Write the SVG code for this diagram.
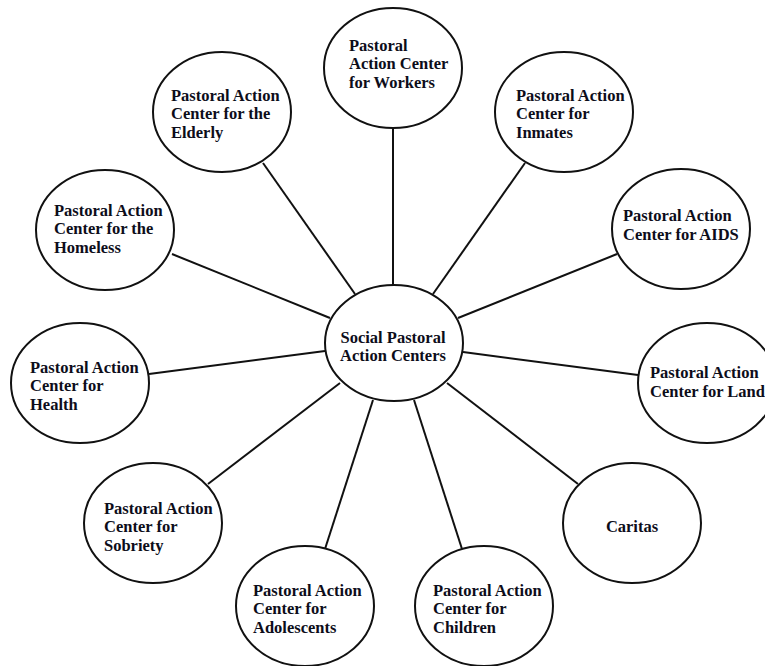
<svg xmlns="http://www.w3.org/2000/svg" width="765" height="666" viewBox="0 0 765 666">
<style>
.n{fill:#fff;stroke:#111;stroke-width:2}
.c line{stroke:#111;stroke-width:2}
text{font-family:"Liberation Serif","Times New Roman",serif;font-weight:bold;font-size:16.5px;fill:#0d0d1a}
.m{text-anchor:middle}
</style>
<rect width="765" height="666" fill="#fff"/>
<g class="c" id="connectors">
<line x1="393" y1="128" x2="393" y2="285"/>
<line x1="263" y1="163" x2="355" y2="294"/>
<line x1="172" y1="254" x2="330" y2="318"/>
<line x1="525" y1="163" x2="433" y2="294"/>
<line x1="617" y1="254" x2="458" y2="318"/>
<line x1="638" y1="375" x2="463" y2="352"/>
<line x1="149" y1="374" x2="325" y2="351"/>
<line x1="208" y1="484" x2="340" y2="383"/>
<line x1="325" y1="549" x2="373" y2="400"/>
<line x1="462" y1="549" x2="414" y2="400"/>
<line x1="578" y1="484" x2="447" y2="383"/>
</g>
<g id="center"><ellipse class="n" cx="394" cy="343" rx="69" ry="58"/>
<text class="m" x="393" y="343">Social Pastoral</text><text class="m" x="393" y="361">Action Centers</text></g>
<g id="workers"><ellipse class="n" cx="393" cy="68" rx="69" ry="60"/>
<text x="349" y="51">Pastoral</text><text x="349" y="69">Action Center</text><text x="349" y="88">for Workers</text></g>
<g id="elderly"><ellipse class="n" cx="222" cy="112" rx="69" ry="60"/>
<text x="171" y="101">Pastoral Action</text><text x="171" y="119">Center for the</text><text x="171" y="138">Elderly</text></g>
<g id="inmates"><ellipse class="n" cx="564" cy="112" rx="69" ry="60"/>
<text x="516" y="101">Pastoral Action</text><text x="516" y="119">Center for</text><text x="516" y="138">Inmates</text></g>
<g id="homeless"><ellipse class="n" cx="105" cy="230" rx="69" ry="60"/>
<text x="54" y="216">Pastoral Action</text><text x="54" y="234">Center for the</text><text x="54" y="253">Homeless</text></g>
<g id="aids"><ellipse class="n" cx="681" cy="229" rx="69" ry="60"/>
<text x="623" y="221">Pastoral Action</text><text x="623" y="240">Center for AIDS</text></g>
<g id="land"><ellipse class="n" cx="707" cy="383" rx="69" ry="60"/>
<text x="650" y="378">Pastoral Action</text><text x="650" y="397">Center for Land</text></g>
<g id="health"><ellipse class="n" cx="80" cy="383" rx="69" ry="60"/>
<text x="30" y="373">Pastoral Action</text><text x="30" y="391">Center for</text><text x="30" y="410">Health</text></g>
<g id="sobriety"><ellipse class="n" cx="153" cy="523" rx="69" ry="60"/>
<text x="104" y="514">Pastoral Action</text><text x="104" y="532">Center for</text><text x="104" y="551">Sobriety</text></g>
<g id="caritas"><ellipse class="n" cx="632" cy="523" rx="69" ry="60"/>
<text class="m" x="632" y="532">Caritas</text></g>
<g id="adolescents"><ellipse class="n" cx="305" cy="606" rx="69" ry="60"/>
<text x="253" y="596">Pastoral Action</text><text x="253" y="614">Center for</text><text x="253" y="633">Adolescents</text></g>
<g id="children"><ellipse class="n" cx="484" cy="606" rx="69" ry="60"/>
<text x="433" y="596">Pastoral Action</text><text x="433" y="614">Center for</text><text x="433" y="633">Children</text></g>
</svg>
